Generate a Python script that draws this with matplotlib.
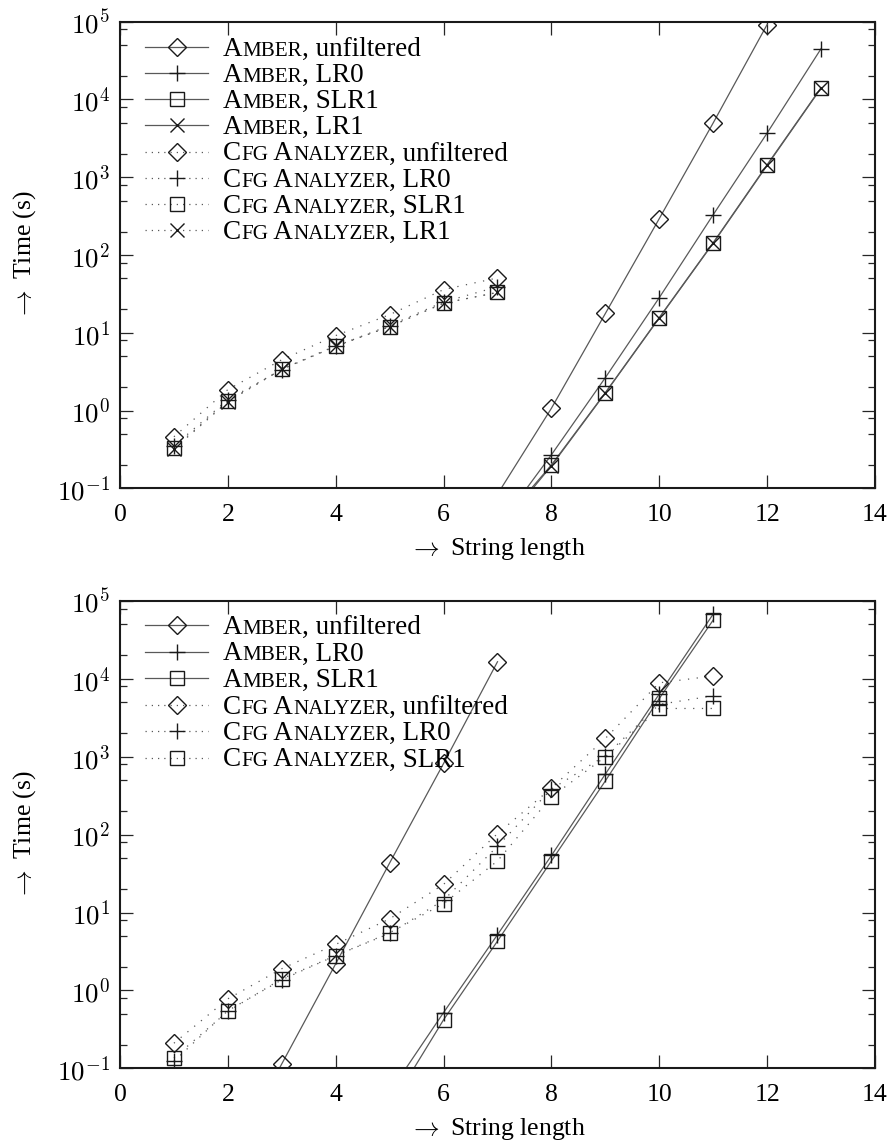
import numpy as np
import matplotlib
matplotlib.use("Agg")
import matplotlib.pyplot as plt
from matplotlib.lines import Line2D
from matplotlib.offsetbox import TextArea, HPacker, AnnotationBbox
from matplotlib.ticker import LogLocator, FuncFormatter, MultipleLocator, NullFormatter

plt.rcParams["font.family"] = ["Liberation Serif", "DejaVu Serif"]
plt.rcParams["mathtext.fontset"] = "cm"

# ---- top panel: string length vs time (s) ----
top_amber_x = [7, 8, 9, 10, 11, 12, 13]
top_amber_unfiltered = [0.084, 1.07, 17.7, 294, 5000, 92000]
top_amber_lr0 = [0.031, 0.27, 2.65, 28.3, 330, 3700, 45000]
top_amber_slr1 = [0.031, 0.20, 1.70, 15.7, 144, 1450, 14200]
top_amber_lr1 = [0.028, 0.195, 1.68, 15.5, 142, 1420, 14000]

top_cfg_x = [1, 2, 3, 4, 5, 6, 7]
top_cfg_unfiltered = [0.46, 1.86, 4.5, 9.2, 17.1, 35.9, 50.7]
top_cfg_lr0 = [0.35, 1.38, 3.37, 6.7, 12.4, 24.9, 39]
top_cfg_slr1 = [0.33, 1.32, 3.4, 6.7, 12.0, 24, 33]
top_cfg_lr1 = [0.32, 1.30, 3.4, 6.8, 12.0, 24, 33]

# ---- bottom panel ----
bot_amber_unf_x = [2, 3, 4, 5, 6, 7]
bot_amber_unfiltered = [0.006, 0.114, 2.2, 43.3, 820, 16600]
bot_amber_x = [5, 6, 7, 8, 9, 10, 11]
bot_amber_lr0 = [0.049, 0.52, 5.2, 54, 600, 6400, 68000]
bot_amber_slr1 = [0.031, 0.42, 4.3, 46, 490, 5600, 57000]

bot_cfg_x = [1, 2, 3, 4, 5, 6, 7, 8, 9, 10, 11]
bot_cfg_unfiltered = [0.21, 0.78, 1.9, 3.9, 8.3, 23, 103, 395, 1720, 8900, 10900]
bot_cfg_lr0 = [0.123, 0.55, 1.37, 2.8, 5.4, 14.4, 71, 385, 1030, 4700, 6070]
bot_cfg_slr1 = [0.136, 0.54, 1.41, 2.8, 5.5, 13, 46, 305, 1000, 4170, 4170]

variants = ["unfiltered", "LR0", "SLR1", "LR1"]
tools = ["Amber", "Cfg Analyzer"]

YMIN, YMAX = 0.1, 1e5
W, H = 895, 1146
LINE_COL = "0.35"
MARK_COL = "0.1"
BIG, SMALL = 19.5, 15.2

MARKERS = {
    "unfiltered": dict(marker="D", ms=8.7),
    "LR0": dict(marker="+", ms=12),
    "SLR1": dict(marker="s", ms=10),
    "LR1": dict(marker="x", ms=9.5),
}


def draw_series(ax, xs, ys, variant, dotted):
    ys = np.array(ys, dtype=float)
    xs = np.array(xs[:len(ys)], dtype=float)
    ls = (0, (1, 6)) if dotted else "-"
    ax.plot(xs, ys, ls=ls, color=LINE_COL, lw=0.9, zorder=2)
    keep = ys >= YMIN
    m = MARKERS[variant]
    ax.plot(xs[keep], ys[keep], ls="none", marker=m["marker"], ms=m["ms"],
            mfc="none", mec=MARK_COL, mew=1.0, zorder=3)


def fig_frac(px, py):
    return px / W, 1 - py / H


def label_parts(tool, variant):
    parts = []
    for i, word in enumerate(tool.split()):
        parts.append(((" " if i else "") + word[0].upper(), BIG))
        parts.append((word[1:].upper(), SMALL))
    parts.append((", " + variant, BIG))
    return parts


def draw_legend(fig, ax, entries, y0, dy):
    for i, (tool, variant, dotted) in enumerate(entries):
        py = y0 + i * dy
        x1, y = fig_frac(145, py)
        x2, _ = fig_frac(208, py)
        xm, _ = fig_frac(177, py)
        ls = (0, (1, 4)) if dotted else "-"
        fig.add_artist(Line2D([x1, x2], [y, y], transform=fig.transFigure,
                              ls=ls, color=LINE_COL, lw=0.9))
        m = MARKERS[variant]
        fig.add_artist(Line2D([xm], [y], transform=fig.transFigure, ls="none",
                              marker=m["marker"], ms=m["ms"], mfc="none",
                              mec=MARK_COL, mew=1.0))
        boxes = [TextArea(t, textprops=dict(fontsize=s)) for t, s in label_parts(tool, variant)]
        pack = HPacker(children=boxes, align="baseline", pad=0, sep=0)
        tx, ty = fig_frac(223, py)
        ab = AnnotationBbox(pack, (tx, ty), xycoords="figure fraction",
                            box_alignment=(0, 0.6), frameon=False, pad=0)
        ax.add_artist(ab)


def style_axes(ax):
    ax.set_yscale("log")
    ax.set_xlim(0, 14)
    ax.set_ylim(YMIN, YMAX)
    ax.xaxis.set_major_locator(MultipleLocator(2))
    ax.yaxis.set_major_locator(LogLocator(base=10, numticks=20))
    ax.yaxis.set_minor_locator(LogLocator(base=10, subs=(2, 5, 8), numticks=20))
    ax.yaxis.set_minor_formatter(NullFormatter())
    ax.yaxis.set_major_formatter(FuncFormatter(lambda v, p: r"$10^{%d}$" % round(np.log10(v))))
    ax.tick_params(which="both", direction="in", top=True, right=True, width=0.9, color="0.15")
    ax.tick_params(which="major", length=9.5)
    ax.tick_params(axis="x", which="major", pad=11, labelsize=18.5)
    ax.tick_params(axis="y", which="major", pad=7, labelsize=19.5)
    ax.tick_params(which="minor", length=5)
    for s in ax.spines.values():
        s.set_linewidth(1.5)
        s.set_color("0.1")
    ax.set_xlabel(r"$\rightarrow$ String length", fontsize=18.5)
    ax.set_ylabel(r"$\rightarrow$ Time (s)", fontsize=18.5)
    ax.xaxis.set_label_coords(0.5, -0.103)
    ax.yaxis.set_label_coords(-0.108, 0.5)


fig = plt.figure(figsize=(W / 100, H / 100), dpi=100)
ax1 = fig.add_axes([120 / W, 1 - 488.3 / H, 755 / W, 466.6 / H])
ax2 = fig.add_axes([120 / W, 1 - 1068.3 / H, 755 / W, 467.3 / H])

top_amber = [top_amber_unfiltered, top_amber_lr0, top_amber_slr1, top_amber_lr1]
top_cfg = [top_cfg_unfiltered, top_cfg_lr0, top_cfg_slr1, top_cfg_lr1]
for v, ys in zip(variants, top_amber):
    draw_series(ax1, top_amber_x, ys, v, False)
for v, ys in zip(variants, top_cfg):
    draw_series(ax1, top_cfg_x, ys, v, True)

draw_series(ax2, bot_amber_unf_x, bot_amber_unfiltered, "unfiltered", False)
draw_series(ax2, bot_amber_x, bot_amber_lr0, "LR0", False)
draw_series(ax2, bot_amber_x, bot_amber_slr1, "SLR1", False)
for v, ys in zip(variants[:3], [bot_cfg_unfiltered, bot_cfg_lr0, bot_cfg_slr1]):
    draw_series(ax2, bot_cfg_x, ys, v, True)

style_axes(ax1)
style_axes(ax2)

top_entries = [(t, v, t != "Amber") for t in tools for v in variants]
bot_entries = [(t, v, t != "Amber") for t in tools for v in variants[:3]]
draw_legend(fig, ax1, top_entries, 46.7, 26.2)
draw_legend(fig, ax2, bot_entries, 625, 26.5)

fig.savefig("out.png", dpi=100)
